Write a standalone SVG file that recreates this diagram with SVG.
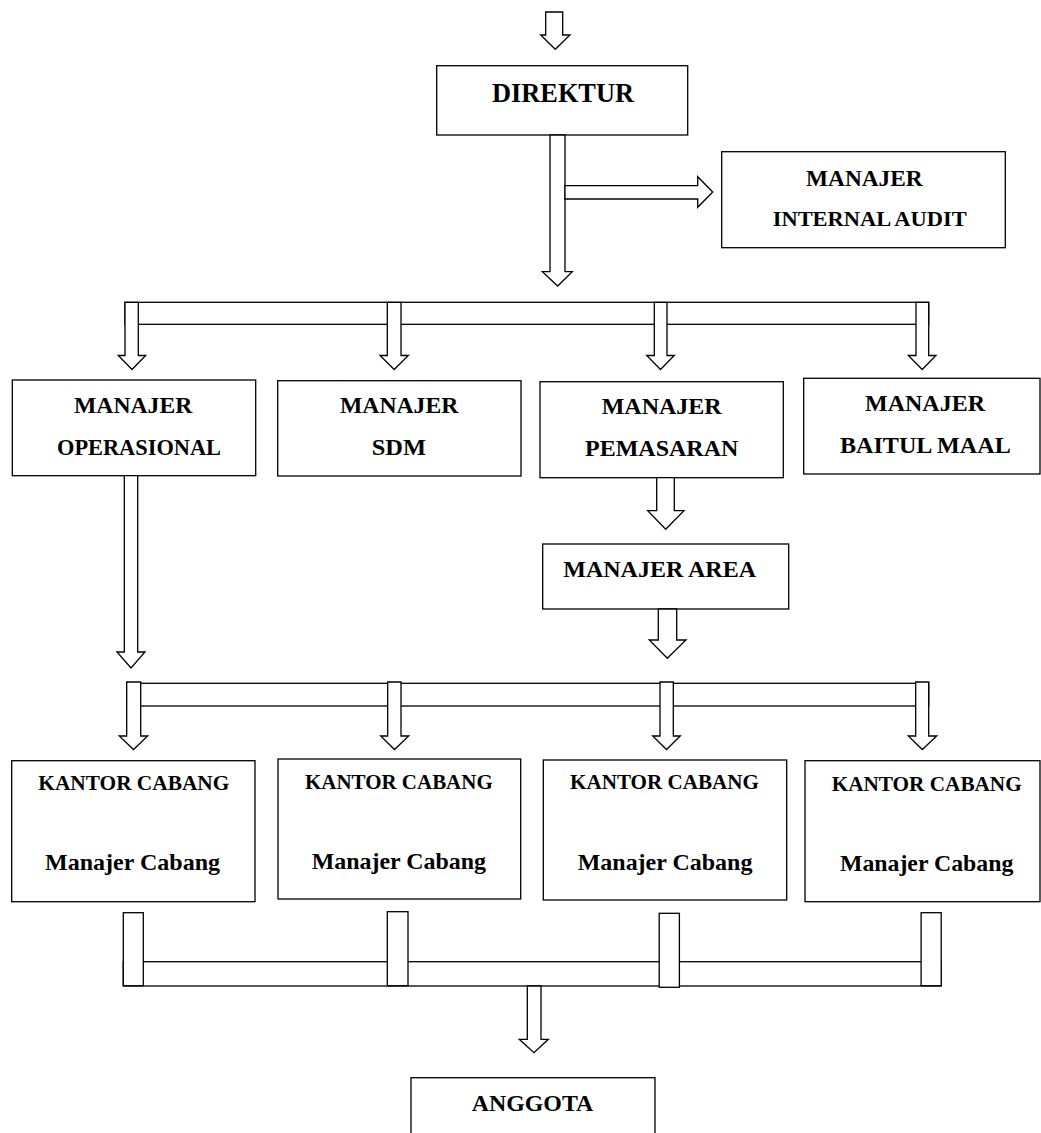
<svg xmlns="http://www.w3.org/2000/svg" width="1041" height="1133" viewBox="0 0 1041 1133">
<style>
.box{fill:#fff;stroke:#000;stroke-width:1.3}
.ar{fill:#fff;stroke:#000;stroke-width:1.3;stroke-linejoin:miter}
text{font-family:"Liberation Serif","Times New Roman",serif;font-weight:bold;fill:#000}
</style>
<rect width="1041" height="1133" fill="#fff"/>
<g id="nodes">
<g id="direktur"><rect class="box" x="436.7" y="65.7" width="251" height="69.3"/><text x="492" y="101.7" font-size="26.3" textLength="142" lengthAdjust="spacingAndGlyphs">DIREKTUR</text></g>
<g id="internal-audit"><rect class="box" x="721.7" y="151.7" width="283.6" height="96"/><text x="806" y="185.7" font-size="23" textLength="116.7" lengthAdjust="spacingAndGlyphs">MANAJER</text><text x="772.7" y="226" font-size="21.7" textLength="194" lengthAdjust="spacingAndGlyphs">INTERNAL AUDIT</text></g>
<g id="operasional"><rect class="box" x="12.3" y="380" width="243.4" height="95.7"/><text x="74" y="413.3" font-size="23.5" textLength="118.3" lengthAdjust="spacingAndGlyphs">MANAJER</text><text x="57" y="455" font-size="22.4" textLength="164" lengthAdjust="spacingAndGlyphs">OPERASIONAL</text></g>
<g id="sdm"><rect class="box" x="277.7" y="380.7" width="243.3" height="95.3"/><text x="340" y="413.3" font-size="23.5" textLength="118.3" lengthAdjust="spacingAndGlyphs">MANAJER</text><text x="371.7" y="455" font-size="24" textLength="54.3" lengthAdjust="spacingAndGlyphs">SDM</text></g>
<g id="pemasaran"><rect class="box" x="540" y="381.7" width="243.3" height="96"/><text x="601.7" y="414" font-size="24" textLength="120" lengthAdjust="spacingAndGlyphs">MANAJER</text><text x="585" y="455.7" font-size="24" textLength="153.3" lengthAdjust="spacingAndGlyphs">PEMASARAN</text></g>
<g id="baitul-maal"><rect class="box" x="803.7" y="378.3" width="236.3" height="95.7"/><text x="865" y="410.7" font-size="24" textLength="120" lengthAdjust="spacingAndGlyphs">MANAJER</text><text x="840" y="452.7" font-size="24" textLength="170.7" lengthAdjust="spacingAndGlyphs">BAITUL MAAL</text></g>
<g id="area"><rect class="box" x="542.7" y="544" width="246" height="65"/><text x="563.3" y="576.7" font-size="23.8" textLength="192.7" lengthAdjust="spacingAndGlyphs">MANAJER AREA</text></g>
<g id="cabang1"><rect class="box" x="11.7" y="760.7" width="243.3" height="141"/><text x="38.3" y="790" font-size="20.7" textLength="191" lengthAdjust="spacingAndGlyphs">KANTOR CABANG</text><text x="45" y="870" font-size="23.9" textLength="175" lengthAdjust="spacingAndGlyphs">Manajer Cabang</text></g>
<g id="cabang2"><rect class="box" x="278" y="759" width="242.7" height="140"/><text x="305" y="789.3" font-size="20.5" textLength="187.7" lengthAdjust="spacingAndGlyphs">KANTOR CABANG</text><text x="311.7" y="869" font-size="23.9" textLength="174.3" lengthAdjust="spacingAndGlyphs">Manajer Cabang</text></g>
<g id="cabang3"><rect class="box" x="543.3" y="760" width="243.4" height="140"/><text x="570" y="789.3" font-size="20.6" textLength="189" lengthAdjust="spacingAndGlyphs">KANTOR CABANG</text><text x="577.7" y="870.3" font-size="23.9" textLength="174.7" lengthAdjust="spacingAndGlyphs">Manajer Cabang</text></g>
<g id="cabang4"><rect class="box" x="805" y="760.7" width="235" height="141"/><text x="831.7" y="790.7" font-size="20.7" textLength="190" lengthAdjust="spacingAndGlyphs">KANTOR CABANG</text><text x="840" y="871.3" font-size="23.7" textLength="173.3" lengthAdjust="spacingAndGlyphs">Manajer Cabang</text></g>
<g id="anggota"><rect class="box" x="411" y="1077.7" width="244" height="70"/><text x="471.7" y="1110.7" font-size="23.5" textLength="121.7" lengthAdjust="spacingAndGlyphs">ANGGOTA</text></g>
</g>
<g id="connectors">
<polygon class="ar" points="545.7,12 562.7,12 562.7,35 570,35 555.3,49.3 540.7,35 545.7,35"/>
<polygon class="ar" points="550,135 565,135 565,271.7 572.3,271.7 557.7,286 542.3,271.7 550,271.7"/>
<polygon class="ar" points="565,185.7 697.7,185.7 697.7,176.7 712.7,192 697.7,207.3 697.7,199 565,199"/>
<rect class="ar" x="125" y="302.3" width="803.7" height="22"/>
<polygon class="ar" points="125,302.3 138.3,302.3 138.3,355.5 145.7,355.5 132,369.5 118.3,355.5 125,355.5"/>
<polygon class="ar" points="387.3,302.3 401,302.3 401,355.5 408.3,355.5 394.2,369.5 380,355.5 387.3,355.5"/>
<polygon class="ar" points="654.3,302.3 667,302.3 667,355.5 674.3,355.5 660.5,369.5 646.7,355.5 654.3,355.5"/>
<polygon class="ar" points="916,302.3 928.7,302.3 928.7,355.5 936,355.5 922.2,369.5 908.3,355.5 916,355.5"/>
<polygon class="ar" points="124.3,475.7 137.7,475.7 137.7,652 145,652 131,668 117,652 124.3,652"/>
<polygon class="ar" points="656.7,477.7 674.3,477.7 674.3,510.7 684,510.7 665.7,529.3 647.7,510.7 656.7,510.7"/>
<polygon class="ar" points="658.3,609 676.7,609 676.7,640 686,640 667.3,658.3 649.3,640 658.3,640"/>
<rect class="ar" x="126.7" y="683.3" width="802" height="22.7"/>
<polygon class="ar" points="126.7,682 140.7,682 140.7,736 147.7,736 133.5,749.5 119.3,736 126.7,736"/>
<polygon class="ar" points="387.7,682 401,682 401,736 408.7,736 394.5,749.5 380.7,736 387.7,736"/>
<polygon class="ar" points="660,682 673.3,682 673.3,736 680.3,736 666.5,749.5 652.7,736 660,736"/>
<polygon class="ar" points="915.7,682 928.7,682 928.7,736 936.7,736 922.3,749.5 908.3,736 915.7,736"/>
<rect class="ar" x="123.3" y="961.7" width="817.9" height="24.3"/>
<rect class="ar" x="123.3" y="912.7" width="20" height="73"/>
<rect class="ar" x="387.3" y="911.7" width="20.7" height="74"/>
<rect class="ar" x="659.2" y="913.3" width="20.2" height="74"/>
<rect class="ar" x="921.1" y="912.7" width="20.1" height="73"/>
<polygon class="ar" points="527.3,986 541,986 541,1039.3 548.3,1039.3 534,1052.7 519.3,1039.3 527.3,1039.3"/>
</g>
</svg>
